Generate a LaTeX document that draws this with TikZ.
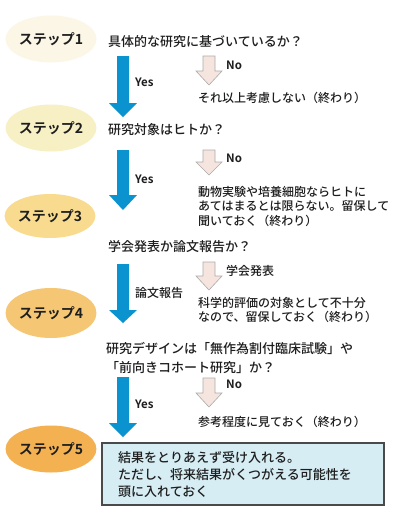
\documentclass[tikz,border=0pt]{standalone}
\usepackage{fontspec}
\setmainfont{Noto Sans CJK JP Medium}[BoldFont={Noto Sans CJK JP Bold}]
\usetikzlibrary{shapes.geometric}
\definecolor{bluearr}{HTML}{0A93CF}
\definecolor{pinkarr}{HTML}{F6E5DF}
\definecolor{pinkedge}{HTML}{ABABAB}
\definecolor{boxfill}{HTML}{D6EDF4}
\definecolor{boxedge}{HTML}{4A4A4A}
\definecolor{stA}{HTML}{FBF6E6}
\definecolor{stB}{HTML}{F8F0C5}
\definecolor{stC}{HTML}{F8DB8F}
\definecolor{stD}{HTML}{F5C673}
\definecolor{stE}{HTML}{F4B152}
\definecolor{txt}{HTML}{1E1E1E}
\newcommand{\blockarr}[7]{%
  \path[#7] (#1-#5,#2) -- (#1+#5,#2) -- (#1+#5,#3) -- (#1+#6,#3) -- (#1,#4)
    -- (#1-#6,#3) -- (#1-#5,#3) -- cycle;}
\tikzset{
  stepell/.style={ellipse, minimum width=83pt, minimum height=47pt, inner sep=0pt,
    font=\bfseries\fontsize{14}{16}\selectfont, text=txt},
  question/.style={anchor=west, inner sep=0pt, align=left, text=txt,
    font=\fontsize{13}{19}\selectfont},
  endtext/.style={anchor=west, inner sep=0pt, align=left, text=txt,
    font=\fontsize{12}{14.5}\selectfont},
  lbl/.style={anchor=west, inner sep=0pt, text=txt, font=\bfseries\fontsize{11.5}{13}\selectfont},
  lblj/.style={anchor=west, inner sep=0pt, text=txt, font=\fontsize{12}{14}\selectfont},
  bluea/.style={fill=bluearr},
  pinka/.style={fill=pinkarr, draw=pinkedge, line width=0.6pt},
  resultbox/.style={draw=boxedge, fill=boxfill, line width=1.2pt}
}
\begin{document}
\begin{tikzpicture}[x=1pt,y=-1pt]
\useasboundingbox (0,0) rectangle (400,520);
\fill[white] (0,0) rectangle (400,520);

% step ellipses
\node[stepell, fill=stA] (s1) at (51,39) {ステップ1};
\node[stepell, fill=stB] (s2) at (51,128) {ステップ2};
\node[stepell, fill=stC, minimum height=44pt] (s3) at (50,216) {ステップ3};
\node[stepell, fill=stD, minimum height=50pt] (s4) at (51,313) {ステップ4};
\node[stepell, fill=stE] (s5) at (51,449) {ステップ5};

% step 1
\node[question] (q1) at (108,42) {具体的な研究に基づいているか？};
\blockarr{123}{56}{103}{117}{6}{14}{bluea}
\blockarr{209}{56}{71}{85}{6}{13}{pinka}
\node[lbl] (no1) at (226,65) {No};
\node[lbl] (yes1) at (135,82) {Yes};
\node[endtext] (e1) at (198,98) {それ以上考慮しない（終わり）};

% step 2
\node[question] (q2) at (108,130) {研究対象はヒトか？};
\blockarr{123}{150}{195}{210}{6}{14}{bluea}
\blockarr{209}{150}{162}{175}{6}{13}{pinka}
\node[lbl] (no2) at (226,158) {No};
\node[lbl] (yes2) at (135,179) {Yes};
\node[endtext] (e2) at (198,206.5) {動物実験や培養細胞ならヒトに\\あてはまるとは限らない。留保して\\聞いておく（終わり）};

% step 3
\node[question] (q3) at (108,247) {学会発表か論文報告か？};
\blockarr{123}{264}{310}{323}{6}{14}{bluea}
\blockarr{209}{262}{276}{290}{6}{13}{pinka}
\node[lblj] (no3) at (226,271) {学会発表};
\node[lblj] (yes3) at (135,293) {論文報告};
\node[endtext] (e3) at (198,310) {科学的評価の対象として不十分\\なので、留保しておく（終わり）};

% step 4
\node[question] (q4) at (106,357.5) {研究デザインは「無作為割付臨床試験」や\\「前向きコホート研究」か？};
\blockarr{123}{377}{423}{437}{6}{14}{bluea}
\blockarr{209}{378}{393}{407}{6}{13}{pinka}
\node[lbl] (no4) at (226,384) {No};
\node[lbl] (yes4) at (135,404) {Yes};
\node[endtext] (e4) at (198,422) {参考程度に見ておく（終わり）};

% step 5 result box
\draw[resultbox] (102,443) rectangle (384,505);
\node[question, font=\fontsize{13}{17}\selectfont] (res) at (118,475) {結果をとりあえず受け入れる。\\ただし、将来結果がくつがえる可能性を\\頭に入れておく};
\end{tikzpicture}
\end{document}
